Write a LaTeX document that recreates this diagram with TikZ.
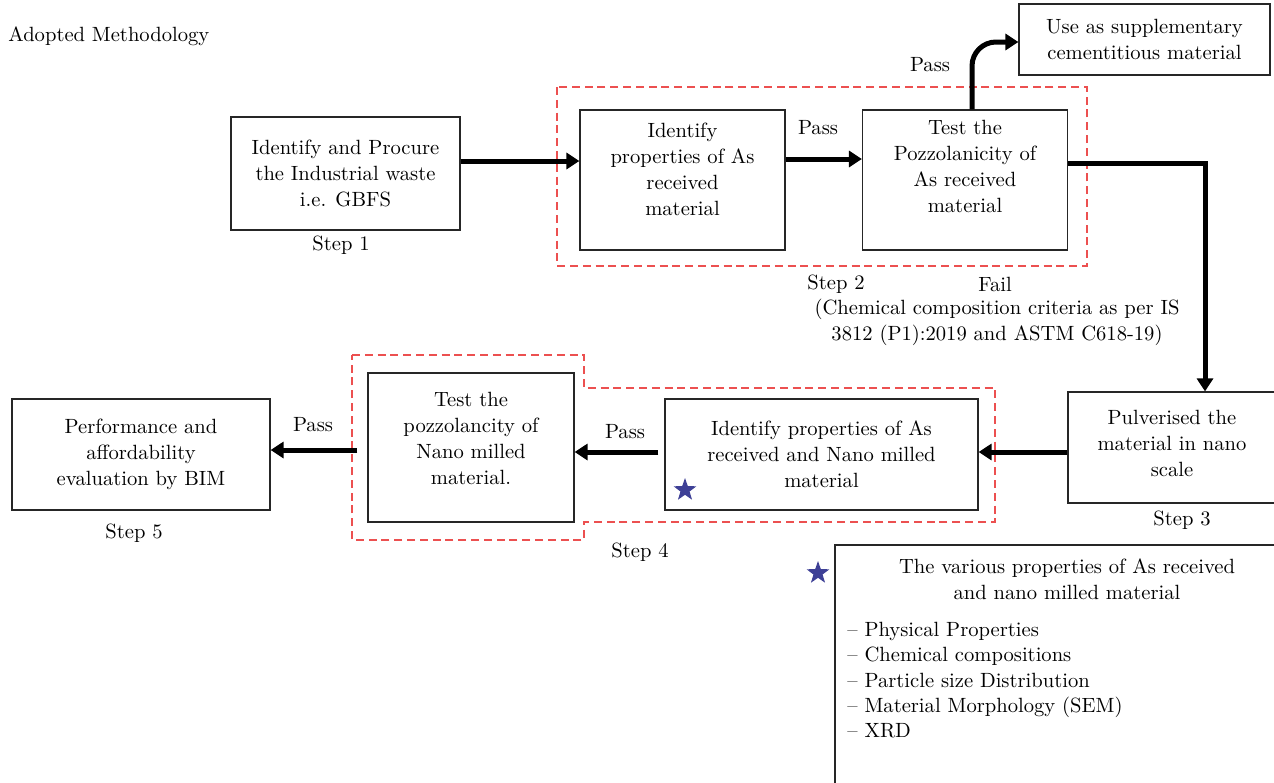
\documentclass[tikz,border=0pt]{standalone}
\usepackage{fontspec}
\usepackage{xcolor}
\usepackage{tikz}
\usetikzlibrary{arrows.meta,positioning,shapes.geometric}
\definecolor{groupred}{RGB}{236,80,80}
\definecolor{starblue}{RGB}{62,64,150}

\begin{document}
\begin{tikzpicture}[
    x=0.5pt, y=-0.5pt,
    every node/.style={font=\fontsize{10.3}{13}\selectfont},
    stage/.style={rectangle, draw=black!85, line width=0.6pt, align=center, inner sep=2pt},
    flow/.style={line width=2.5pt, -{Triangle[length=6.5pt, width=8pt]}},
    group/.style={draw=groupred, line width=0.6pt, dash pattern=on 4pt off 2.4pt},
    bluestar/.style={star, star points=5, star point ratio=2.5, fill=starblue, inner sep=0pt, minimum size=12pt},
    tag/.style={inner sep=1pt}
  ]
    \useasboundingbox (0,0) rectangle (1274,782);

    \node[tag, anchor=west] (title) at (6,36) {Adopted Methodology};

    % upper row
    \node[stage, minimum width=114.5pt, minimum height=56.5pt] (procure) at (345.5,173.5) {Identify and Procure\\the Industrial waste\\i.e. GBFS};
    \node[stage, minimum width=102.5pt, minimum height=70pt] (idas) at (682.5,180) {Identify\\properties of As\\received\\material\\[-2.5pt]\mbox{}};
    \node[stage, minimum width=102.5pt, minimum height=70pt] (testas) at (965,180) {Test the\\Pozzolanicity of\\As received\\material\\[1pt]\mbox{}};
    \node[stage, minimum width=125.5pt, minimum height=35.5pt] (scm) at (1144.5,39.5) {Use as supplementary\\cementitious material};

    % lower row
    \node[stage, minimum width=104pt, minimum height=55.5pt] (pulv) at (1172,447.5) {Pulverised the\\material in nano\\scale\\[-8.5pt]\mbox{}};
    \node[stage, minimum width=156.5pt, minimum height=55.5pt] (idnano) at (821.5,454.5) {Identify properties of As\\received and Nano milled\\material};
    \node[stage, minimum width=103pt, minimum height=74.5pt] (testnano) at (471,447.5) {Test the\\pozzolancity of\\Nano milled\\material.\\[-3.5pt]\mbox{}};
    \node[stage, minimum width=129pt, minimum height=55.5pt] (bim) at (141,454.5) {Performance and\\affordability\\evaluation by BIM};

    % dashed groups
    \draw[group] (557,87) rectangle (1087,266);
    \draw[group] (352,355) -- (584,355) -- (584,388) -- (995,388) -- (995,522)
      -- (584,522) -- (584,540) -- (352,540) -- cycle;

    % step labels
    \node[tag] (step1) at (341,245) {Step 1};
    \node[tag] (step2) at (836,284) {Step 2};
    \node[tag] (step3) at (1182,520) {Step 3};
    \node[tag] (step4) at (640,552) {Step 4};
    \node[tag] (step5) at (134,533) {Step 5};

    \node[tag] (fail) at (995,284) {Fail};
    \node[tag, align=center] (criteria) at (997,322) {(Chemical composition criteria as per IS\\3812 (P1):2019 and ASTM C618-19)};

    \node[tag] (pass1) at (818,128) {Pass};
    \node[tag] (pass2) at (930,65) {Pass};
    \node[tag] (pass3) at (625,432) {Pass};
    \node[tag] (pass4) at (313,425) {Pass};

    % connectors
    \coordinate (passturn) at (972,42);
    \coordinate (failturn) at (1205,163);
    \draw[flow] (procure.east |- 0,161) -- (idas.west |- 0,161);
    \draw[flow] (idas.east |- 0,159) -- (testas.west |- 0,159);
    \draw[flow, rounded corners=12pt] (testas.north -| passturn) |- (scm.west |- passturn);
    \draw[flow] (testas.east |- failturn) -| (pulv.north -| failturn);
    \draw[flow] (pulv.west |- 0,452) -- (idnano.east |- 0,452);
    \draw[flow, shorten <=3pt] (idnano.west |- 0,452) -- (testnano.east |- 0,452);
    \draw[flow, shorten <=5pt] (testnano.west |- 0,450) -- (bim.east |- 0,450);

    % properties box
    \draw[draw=black!85, line width=0.6pt] (835,790) |- (1280,545);
    \node[tag, align=center] (propshead) at (1067,579) {The various properties of As received\\and nano milled material};
    \node[tag, anchor=north west, align=left, font=\fontsize{10.3}{12.6}\selectfont] (propslist) at (845,620)
      {-- Physical Properties\\-- Chemical compositions\\-- Particle size Distribution\\-- Material Morphology (SEM)\\-- XRD};

    \node[bluestar] (star1) at (685,490) {};
    \node[bluestar] (star2) at (818,573) {};
  \end{tikzpicture}
\end{document}
